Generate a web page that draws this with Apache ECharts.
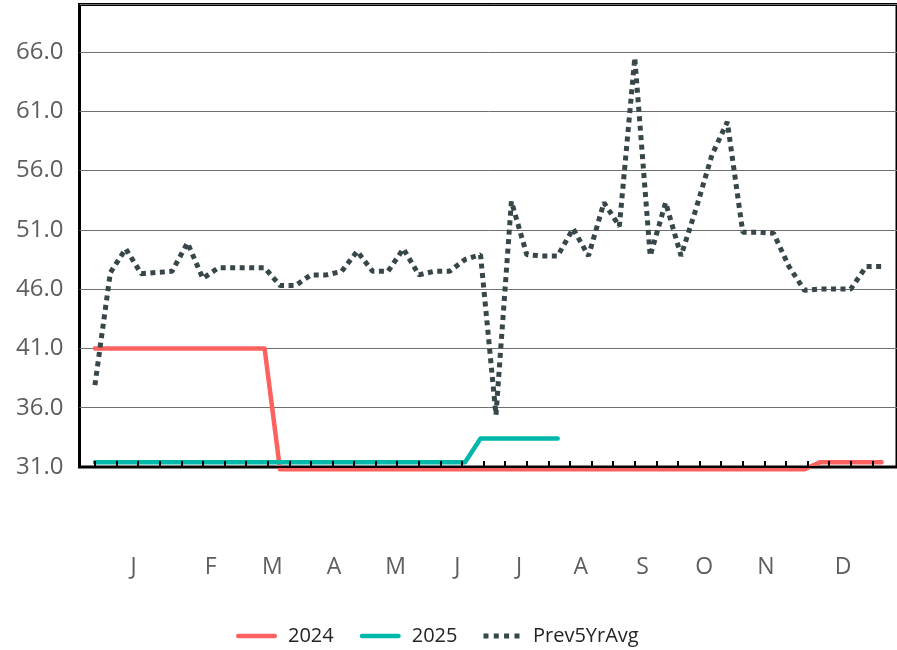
<!DOCTYPE html>
<html><head><meta charset="utf-8">
<script src="https://cdn.jsdelivr.net/npm/echarts@6/dist/echarts.min.js"></script>
<style>html,body{margin:0;padding:0;background:#fff}#c{width:897px;height:650px}</style>
</head><body><div id="c"></div>
<script>
// ---- data ----
const monthLabels = ['J','F','M','A','M','J','J','A','S','O','N','D'];
const seriesNames = ['2024', '2025', 'Prev5YrAvg'];
const values2024 = [
  41, 41, 41, 41, 41, 41, 41, 41, 41, 41, 41, 41,
  30.8, 30.8, 30.8, 30.8, 30.8, 30.8, 30.8, 30.8, 30.8, 30.8, 30.8, 30.8,
  30.8, 30.8, 30.8, 30.8, 30.8, 30.8, 30.8, 30.8, 30.8, 30.8, 30.8, 30.8,
  30.8, 30.8, 30.8, 30.8, 30.8, 30.8, 30.8, 30.8, 30.8, 30.8, 30.8,
  31.4, 31.4, 31.4, 31.4, 31.4
];
const values2025 = [
  31.4, 31.4, 31.4, 31.4, 31.4, 31.4, 31.4, 31.4, 31.4, 31.4, 31.4, 31.4, 31.4,
  31.4, 31.4, 31.4, 31.4, 31.4, 31.4, 31.4, 31.4, 31.4, 31.4, 31.4, 31.4,
  33.4, 33.4, 33.4, 33.4, 33.4, 33.4
];
const valuesPrev5 = [
  37.9, 47.4, 49.4, 47.3, 47.4, 47.5, 49.9, 46.9, 47.8, 47.8, 47.8, 47.8,
  46.3, 46.3, 47.2, 47.2, 47.5, 49.2, 47.5, 47.5, 49.4, 47.2, 47.5, 47.5,
  48.5, 48.9, 35.4, 53.4, 48.9, 48.8, 48.8, 51.1, 48.8, 53.3, 51.3, 65.5,
  48.8, 53.3, 48.8, 52.9, 57.3, 60.1, 50.8, 50.8, 50.7, 47.9, 45.9, 46.0,
  46.0, 46.0, 47.9, 47.9
];

// ---- axis layout (positions in week-index units) ----
const monthLabelAt = [2.5, 7.5, 11.5, 15.5, 19.5, 23.5, 27.5, 31.5, 35.5, 39.5, 43.5, 48.5];
const tickAt = [];
for (let k = 0; k <= 36; k++) tickAt.push(+(k * 1.4).toFixed(2));

const toPairs = arr => arr.map((v, i) => [i, v]);
const FONT = '"Open Sans", "Noto Sans", sans-serif';
const COLORS = ['#FD625E', '#01B8AA', '#374649'];
const ICON_SOLID = 'path://M2.25,0H38.75A2.25,2.25,0,0,1,38.75,4.5H2.25A2.25,2.25,0,0,1,2.25,0Z';
const ICON_DOTS = 'path://M0,0H5V5H0Z M10.3,0H15.3V5H10.3Z M20.6,0H25.6V5H20.6Z M31,0H36V5H31Z';

const chart = echarts.init(document.getElementById('c'), null, {renderer: 'canvas'});
chart.setOption({
  animation: false,
  backgroundColor: '#fff',
  grid: {
    left: 79.5, top: 4.5, right: -3, bottom: 183,
    show: true, borderColor: '#000', borderWidth: 3, containLabel: false
  },
  legend: {
    data: [
      {name: seriesNames[0], icon: ICON_SOLID, itemStyle: {color: COLORS[0], borderWidth: 0}},
      {name: seriesNames[1], icon: ICON_SOLID, itemStyle: {color: COLORS[1], borderWidth: 0}},
      {name: seriesNames[2], icon: ICON_DOTS, itemStyle: {color: COLORS[2], borderWidth: 0}}
    ],
    left: 231, top: 621,
    itemWidth: 41, itemHeight: 5, itemGap: 26,
    textStyle: {fontFamily: FONT, fontSize: 20, color: '#252423', padding: [0, 0, 0, 6]}
  },
  xAxis: {
    type: 'value', min: -1, max: 52, z: 10,
    axisLine: {show: true, lineStyle: {color: '#000', width: 2}},
    axisTick: {show: true, inside: true, length: 6, lineStyle: {color: '#000', width: 2}, customValues: tickAt},
    axisLabel: {
      show: true, customValues: monthLabelAt, margin: 89,
      fontFamily: FONT, fontSize: 23, color: '#605E5C',
      formatter: v => {
        const i = monthLabelAt.findIndex(p => Math.abs(p - v) < 0.01);
        return i >= 0 ? monthLabels[i] : '';
      }
    },
    splitLine: {show: false}
  },
  yAxis: {
    type: 'value', min: 31, max: 70, interval: 5,
    axisLine: {show: false}, axisTick: {show: false},
    axisLabel: {
      showMaxLabel: false, margin: 16,
      fontFamily: FONT, fontSize: 24, color: '#605E5C',
      formatter: v => v.toFixed(1)
    },
    splitLine: {show: true, lineStyle: {color: '#707070', width: 1}}
  },
  series: [
    {
      name: seriesNames[0], type: 'line', data: toPairs(values2024), symbol: 'none', clip: false, z: 3,
      lineStyle: {color: COLORS[0], width: 4.5, cap: 'round', join: 'round'},
      itemStyle: {color: COLORS[0]}
    },
    {
      name: seriesNames[1], type: 'line', data: toPairs(values2025), symbol: 'none', clip: false, z: 4,
      lineStyle: {color: COLORS[1], width: 4.5, cap: 'round', join: 'round'},
      itemStyle: {color: COLORS[1]}
    },
    {
      name: seriesNames[2], type: 'line', data: toPairs(valuesPrev5), symbol: 'none', clip: false, z: 5,
      lineStyle: {color: COLORS[2], width: 5, type: [5, 4.5]},
      itemStyle: {color: COLORS[2]}
    }
  ]
});
</script></body></html>
